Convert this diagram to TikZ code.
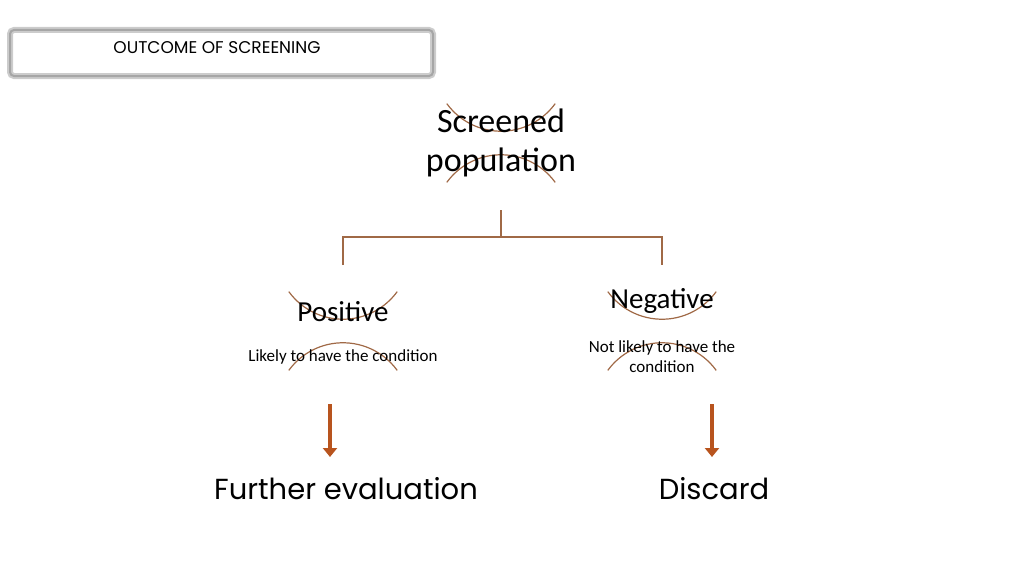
\documentclass[tikz,border=0pt]{standalone}
\usepackage{fontspec}
\setmainfont{Poppins}
\newfontfamily\bodyf{Carlito}
\definecolor{brn}{RGB}{160,105,70}
\definecolor{arr}{RGB}{184,84,30}
\tikzset{arcline/.style={draw=brn,line width=1.2pt},
 conn/.style={draw=brn,line width=1.6pt},
 bigarrow/.style={draw=arr,line width=3.5pt,-{Triangle[length=9pt,width=14pt]}},
 txt/.style={inner sep=0pt,align=center}}
\usetikzlibrary{arrows.meta}
\begin{document}
\begin{tikzpicture}[x=1pt,y=-1pt]
\useasboundingbox (0,0) rectangle (1024,586);
\draw[gray!40,line width=6pt,rounded corners=4pt] (10,30) rectangle (433,76);
\draw[gray!70,line width=2pt,rounded corners=4pt] (10,30) rectangle (433,76);
\node[txt,font=\fontsize{17}{20}\selectfont] (title) at (217,48) {OUTCOME OF SCREENING};
% circles
\coordinate (c0) at (501,143);
\coordinate (c1) at (343,331);
\coordinate (c2) at (662,331);
\foreach \c in {c0,c1,c2}{
 \draw[arcline] ([shift={(36:67)}]\c) arc[start angle=36,end angle=144,radius=67,y radius=-67];
 \draw[arcline] ([shift={(216:67)}]\c) arc[start angle=216,end angle=324,radius=67,y radius=-67];
}
\node[txt,font=\bodyf\fontsize{34}{39}\selectfont] (sp) at (501,143) {Screened\\population};
\node[txt,font=\bodyf\fontsize{29}{32}\selectfont] (pos) at (343,312) {Positive};
\node[txt,font=\bodyf\fontsize{17}{20}\selectfont] (posd) at (343,357) {Likely to have the condition};
\node[txt,font=\bodyf\fontsize{29}{32}\selectfont] (neg) at (662,301) {Negative};
\node[txt,font=\bodyf\fontsize{17}{20}\selectfont] (negd) at (662,357) {Not likely to have the\\condition};
\coordinate (b0) at (501,210);
\coordinate (j) at (501,237);
\coordinate (l) at (343,237);
\coordinate (r) at (662,237);
\coordinate (b1) at (343,265);
\coordinate (b2) at (662,265);
\draw[conn] (b0) -- (j);
\draw[conn] (b1) -- (l) -- (r) -- (b2);
\node[txt,font=\fontsize{29}{32}\selectfont] (fe) at (346,489) {Further evaluation};
\node[txt,font=\fontsize{29}{32}\selectfont] (dc) at (714,489) {Discard};
\coordinate (a1) at (330,404);
\coordinate (a2) at (712,404);
\draw[bigarrow] (a1) -- (330,457);
\draw[bigarrow] (a2) -- (712,457);
\end{tikzpicture}
\end{document}
